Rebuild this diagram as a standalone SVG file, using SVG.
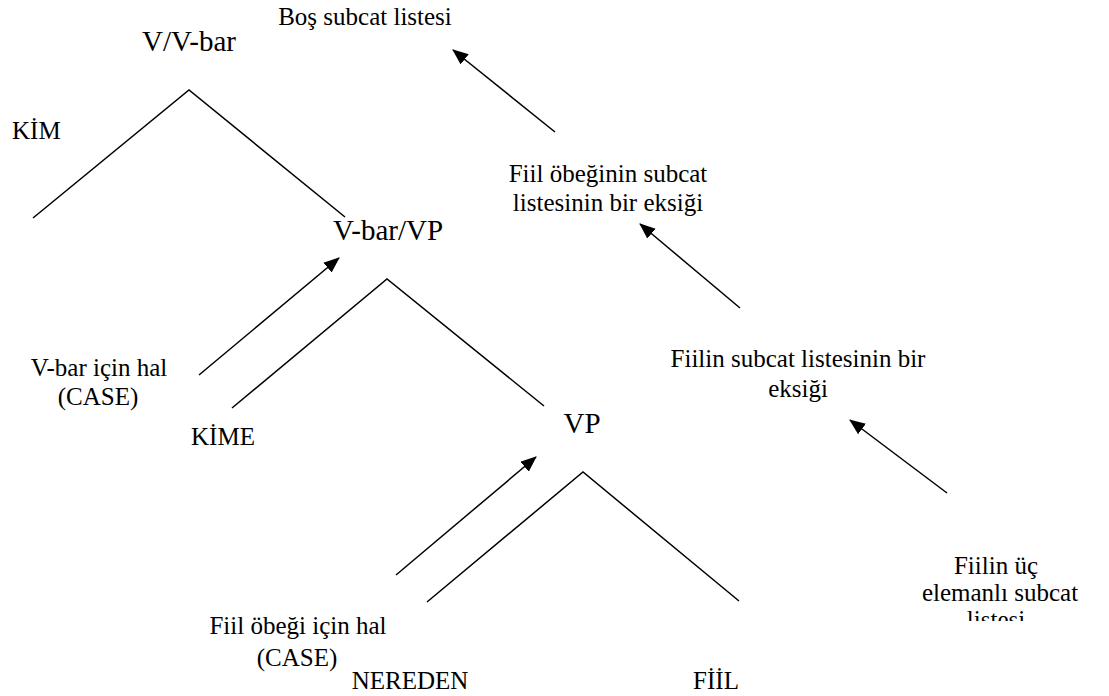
<svg xmlns="http://www.w3.org/2000/svg" width="1109" height="696" viewBox="0 0 1109 696" font-family="'Liberation Serif', 'Times New Roman', 'DejaVu Serif', serif">
<style>
text{font-family:'Liberation Serif','Times New Roman','DejaVu Serif',serif;fill:#000;}
.lb{font-size:25px;}
.nd{font-size:29px;}
.m{text-anchor:middle;}
.ln{stroke:#000;stroke-width:1.5;fill:none;}
.ar{stroke:#000;stroke-width:1.5;fill:none;marker-end:url(#ah);}
</style>
<defs>
<marker id="ah" markerUnits="userSpaceOnUse" markerWidth="16" markerHeight="14" refX="15" refY="6.5" orient="auto">
<path d="M0,0 L16,6.5 L0,13 z" fill="#000"/>
</marker>
<clipPath id="cl"><rect x="880" y="540" width="229" height="81"/></clipPath>
</defs>
<rect width="1109" height="696" fill="#fff"/>
<g id="connectors">
<path class="ln" d="M33,218 L189,90 L345,217"/>
<path class="ln" d="M232,408 L387,279 L544,406"/>
<path class="ln" d="M427,602 L583,472 L739,601"/>
<line class="ar" x1="199" y1="375" x2="339" y2="258"/>
<line class="ar" x1="396" y1="575" x2="536" y2="457"/>
<line class="ar" x1="555" y1="132" x2="453" y2="50"/>
<line class="ar" x1="740" y1="308" x2="640" y2="224"/>
<line class="ar" x1="947" y1="493" x2="850" y2="420"/>
</g>
<g id="n-bos"><text class="lb m" x="365" y="25">Boş subcat listesi</text></g>
<g id="n-vvbar"><text class="nd m" x="189" y="51">V/V-bar</text></g>
<g id="n-kim"><text class="lb" x="12" y="139">KİM</text></g>
<g id="n-fiilobek"><text class="lb m" x="608" y="182">Fiil öbeğinin subcat</text><text class="lb m" x="608" y="211">listesinin bir eksiği</text></g>
<g id="n-vbarvp"><text class="nd m" x="388" y="240">V-bar/VP</text></g>
<g id="n-fiilin"><text class="lb m" x="798" y="367">Fiilin subcat listesinin bir</text><text class="lb m" x="798" y="397">eksiği</text></g>
<g id="n-vbarhal"><text class="lb m" x="99" y="376">V-bar için hal</text><text class="lb m" x="98" y="405">(CASE)</text></g>
<g id="n-kime"><text class="lb m" x="223" y="445">KİME</text></g>
<g id="n-vp"><text class="nd m" x="582" y="433">VP</text></g>
<g id="n-fiilhal"><text class="lb m" x="298" y="634">Fiil öbeği için hal</text><text class="lb m" x="297" y="666">(CASE)</text></g>
<g id="n-nereden"><text class="lb m" x="410" y="689">NEREDEN</text></g>
<g id="n-fiil"><text class="lb m" x="716" y="689">FİİL</text></g>
<g id="n-fiilinuc" clip-path="url(#cl)"><text class="lb m" x="996" y="574">Fiilin üç</text><text class="lb m" x="1000" y="601">elemanlı subcat</text><text class="lb m" x="996" y="628">listesi</text></g>
</svg>
